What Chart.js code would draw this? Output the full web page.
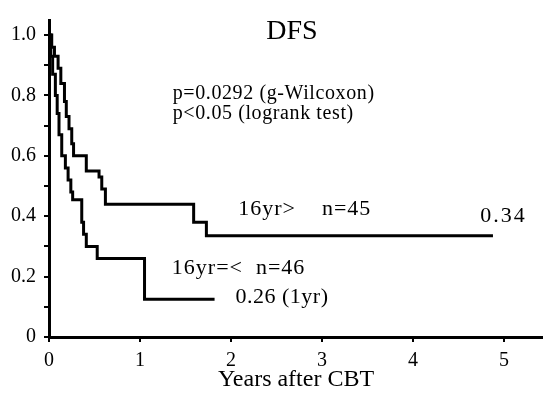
<!DOCTYPE html>
<html>
<head>
<meta charset="utf-8">
<script src="https://cdn.jsdelivr.net/npm/chart.js@4/dist/chart.umd.min.js"></script>
<style>
  html, body { margin: 0; padding: 0; background: #fff; }
  #wrap { width: 543px; height: 401px; }
</style>
</head>
<body>
<div id="wrap"><canvas id="dfsChart" width="543" height="401"></canvas></div>
<script>
// x ticks (years) and y ticks (survival fraction)
const yearTicks = [0, 1, 2, 3, 4, 5];
const survTicks = [0, 0.1, 0.2, 0.3, 0.4, 0.5, 0.6, 0.7, 0.8, 0.9, 1.0];

// 16yr> (n=45) : time of each drop, value after drop
const olderTimes = [0, 0.03, 0.06, 0.10, 0.13, 0.17, 0.19, 0.22, 0.25, 0.27, 0.41, 0.55, 0.58, 0.62, 1.59, 1.73, 4.88];
const olderSurv = [1.0, 0.96, 0.93, 0.89, 0.84, 0.78, 0.73, 0.69, 0.64, 0.60, 0.55, 0.53, 0.49, 0.44, 0.38, 0.335, 0.335];

// 16yr=< (n=46)
const youngerTimes = [0, 0.02, 0.04, 0.07, 0.09, 0.11, 0.14, 0.18, 0.21, 0.24, 0.26, 0.36, 0.38, 0.41, 0.53, 1.05, 1.82];
const youngerSurv = [1.0, 0.93, 0.87, 0.80, 0.74, 0.67, 0.60, 0.56, 0.52, 0.48, 0.455, 0.38, 0.34, 0.30, 0.26, 0.125, 0.125];

// text notes, anchored in data units
const notes = [
  { text: 'DFS', x: 2.67, y: 0.988, size: 28, spacing: 0, align: 'center' },
  { text: 'p=0.0292 (g-Wilcoxon)', x: 1.36, y: 0.787, size: 20, spacing: 0.6, align: 'left' },
  { text: 'p<0.05 (logrank test)', x: 1.36, y: 0.722, size: 20, spacing: 0.6, align: 'left' },
  { text: '16yr>    n=45', x: 2.08, y: 0.404, size: 22, spacing: 1, align: 'left' },
  { text: '0.34', x: 4.74, y: 0.381, size: 22, spacing: 2, align: 'left' },
  { text: '16yr=<  n=46', x: 1.35, y: 0.21, size: 22, spacing: 1, align: 'left' },
  { text: '0.26 (1yr)', x: 2.05, y: 0.112, size: 22, spacing: 0.5, align: 'left' },
];

const serif = '"Liberation Serif", "DejaVu Serif", serif';

const toPoints = (xs, ys) => xs.map((x, i) => ({ x, y: ys[i] }));

const notesPlugin = {
  id: 'notes',
  afterDraw(chart) {
    const { ctx, scales } = chart;
    ctx.save();
    ctx.fillStyle = '#000';
    ctx.textBaseline = 'alphabetic';
    notes.forEach((n) => {
      ctx.font = `${n.size}px ${serif}`;
      ctx.letterSpacing = `${n.spacing}px`;
      ctx.textAlign = n.align;
      ctx.fillText(n.text, scales.x.getPixelForValue(n.x), scales.y.getPixelForValue(n.y));
    });
    ctx.restore();
  },
};

const curve = (points) => ({
  data: points,
  stepped: true,
  borderColor: '#000',
  borderWidth: 3,
  pointRadius: 0,
  fill: false,
});

new Chart(document.getElementById('dfsChart'), {
  type: 'line',
  data: {
    datasets: [
      curve(toPoints(olderTimes, olderSurv)),
      curve(toPoints(youngerTimes, youngerSurv)),
    ],
  },
  options: {
    responsive: false,
    animation: false,
    layout: { padding: { top: 17, left: 0, right: 0, bottom: 0 } },
    plugins: { legend: { display: false }, tooltip: { enabled: false } },
    scales: {
      x: {
        type: 'linear',
        min: 0,
        max: 5.43,
        afterBuildTicks: (scale) => { scale.ticks = yearTicks.map((v) => ({ value: v })); },
        afterFit: (scale) => { scale.height = 64; },
        border: { display: true, color: '#000', width: 3 },
        grid: { drawOnChartArea: false, drawTicks: true, tickLength: 5, color: '#000', lineWidth: 2 },
        ticks: { color: '#000', font: { family: serif, size: 20 }, padding: 7, maxRotation: 0, callback: (v) => String(v) },
        title: { display: true, text: 'Years after CBT', color: '#000', font: { family: serif, size: 24 }, padding: { top: 0, bottom: 7 } },
      },
      y: {
        type: 'linear',
        min: 0,
        max: 1.05,
        afterBuildTicks: (scale) => { scale.ticks = survTicks.map((v) => ({ value: v })); },
        afterFit: (scale) => { scale.width = 49; },
        border: { display: true, color: '#000', width: 3 },
        grid: { drawOnChartArea: false, drawTicks: true, tickLength: 5, color: '#000', lineWidth: 2 },
        ticks: {
          color: '#000',
          font: { family: serif, size: 20 },
          padding: 8,
          callback: (v) => {
            const r = Math.round(v * 10);
            if (r % 2 !== 0) return '';
            if (r === 0) return '0';
            return (r / 10).toFixed(1);
          },
        },
      },
    },
  },
  plugins: [notesPlugin],
});
</script>
</body>
</html>
